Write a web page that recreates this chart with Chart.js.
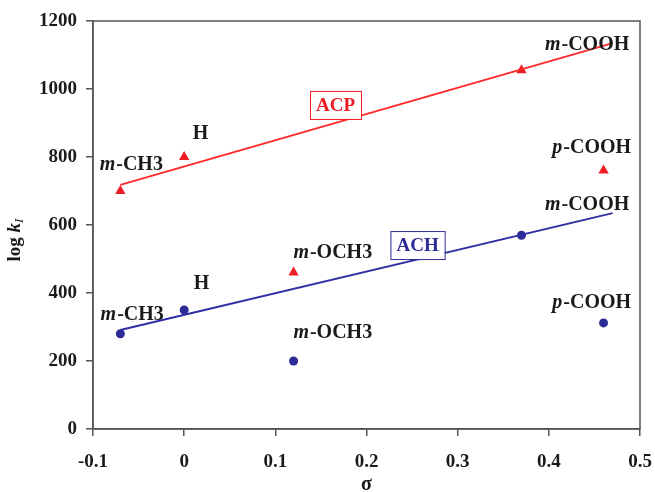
<!DOCTYPE html>
<html>
<head>
<meta charset="utf-8">
<style>
  html, body { margin: 0; padding: 0; background: #fff; }
  #wrap { width: 655px; height: 492px; }
</style>
<script src="https://cdn.jsdelivr.net/npm/chart.js@4/dist/chart.umd.min.js"></script>
</head>
<body>
<div id="wrap"><canvas id="sigmaChart"></canvas></div>
<script>
// Hammett plot data
const sigma = [-0.07, 0, 0.12, 0.37, 0.46];
const substituents = ['m-CH3', 'H', 'm-OCH3', 'm-COOH', 'p-COOH'];
const acpLogK = [700, 800, 460, 1055, 760];
const achLogK = [280, 350, 200, 570, 312];

// fitted lines
const fitSigma = [-0.07, 0.47];
const acpFit = [718, 1135];
const achFit = [291, 635];

const xTickLabels = ['-0.1', '0', '0.1', '0.2', '0.3', '0.4', '0.5'];
const yTickLabels = ['0', '200', '400', '600', '800', '1000', '1200'];

// where the substituent labels sit, in data units (sigma, log k)
const acpLabelAt = [[-0.058, 776], [0.018, 868], [0.163, 518], [0.442, 1129], [0.447, 826]];
const achLabelAt = [[-0.057, 335], [0.019, 426], [0.163, 282], [0.442, 659], [0.447, 371]];
const seriesNames = ['ACP', 'ACH'];
const seriesNameAt = [[0.166, 953], [0.256, 541]];

const RED = '#ee1c24';
const BLUE = '#2c2c96';
const SERIF = '"Liberation Serif", "Times New Roman", serif';

const toPoints = (xs, ys) => xs.map((x, i) => ({ x: x, y: ys[i] }));

// Draws labels, name boxes, axis titles and the frame
const annotate = {
    id: 'annotate',
    afterDatasetsDraw(chart) {
        const ctx = chart.ctx;
        const xs = chart.scales.x;
        const ys = chart.scales.y;
        const area = chart.chartArea;

        ctx.save();
        // frame
        ctx.strokeStyle = '#555';
        ctx.lineWidth = 1.5;
        ctx.strokeRect(area.left, area.top, area.right - area.left, area.bottom - area.top);

        ctx.textBaseline = 'middle';
        const bold = 'bold 20px ' + SERIF;
        const boldItalic = 'italic bold 20px ' + SERIF;

        function drawLabel(text, pos) {
            const px = xs.getPixelForValue(pos[0]);
            const py = ys.getPixelForValue(pos[1]);
            const dash = text.indexOf('-');
            let pre = '', rest = text;
            if (dash === 1) { pre = text[0]; rest = text.slice(1); }
            ctx.font = boldItalic;
            const w1 = pre ? ctx.measureText(pre).width + 1 : 0;
            ctx.font = bold;
            const w2 = ctx.measureText(rest).width;
            let x = px - (w1 + w2) / 2;
            ctx.fillStyle = '#1a1a1a';
            ctx.textAlign = 'left';
            if (pre) {
                ctx.font = boldItalic;
                ctx.fillText(pre, x, py);
                x += w1;
            }
            ctx.font = bold;
            ctx.fillText(rest, x, py);
        }

        substituents.forEach((s, i) => drawLabel(s, acpLabelAt[i]));
        substituents.forEach((s, i) => drawLabel(s, achLabelAt[i]));

        // series name boxes
        [RED, BLUE].forEach((col, i) => {
            const px = xs.getPixelForValue(seriesNameAt[i][0]);
            const py = ys.getPixelForValue(seriesNameAt[i][1]);
            ctx.font = 'bold 19px ' + SERIF;
            const w = ctx.measureText(seriesNames[i]).width + 12;
            const h = 28;
            ctx.fillStyle = '#fff';
            ctx.fillRect(px - w / 2, py - h / 2, w, h);
            ctx.strokeStyle = col;
            ctx.lineWidth = 1;
            ctx.strokeRect(px - w / 2 + 0.5, py - h / 2 + 0.5, w, h);
            ctx.fillStyle = col;
            ctx.textAlign = 'center';
            ctx.fillText(seriesNames[i], px, py + 1);
        });

        // x title
        ctx.fillStyle = '#1a1a1a';
        ctx.textAlign = 'center';
        ctx.font = 'bold 20px ' + SERIF;
        ctx.fillText('σ', (area.left + area.right) / 2, 485);

        // y title: log k_I
        ctx.translate(15, 240);
        ctx.rotate(-Math.PI / 2);
        ctx.textAlign = 'left';
        ctx.font = 'bold 19px ' + SERIF;
        const a = ctx.measureText('log ').width;
        ctx.font = 'italic bold 19px ' + SERIF;
        const b = ctx.measureText('k').width;
        ctx.font = 'italic 13px ' + SERIF;
        const c = ctx.measureText('I').width;
        let x0 = -(a + b + c) / 2;
        ctx.font = 'bold 19px ' + SERIF;
        ctx.fillText('log ', x0, 0);
        ctx.font = 'italic bold 19px ' + SERIF;
        ctx.fillText('k', x0 + a, 0);
        ctx.font = 'italic 13px ' + SERIF;
        ctx.fillText('I', x0 + a + b, 5);
        ctx.restore();
    }
};

const tickFont = { family: SERIF, size: 19, weight: 'bold' };

new Chart(document.getElementById('sigmaChart'), {
    type: 'scatter',
    data: {
        datasets: [
            {
                label: 'ACP fit',
                type: 'line',
                data: toPoints(fitSigma, acpFit),
                borderColor: '#ff2a2a',
                borderWidth: 2,
                pointRadius: 0,
                fill: false
            },
            {
                label: 'ACH fit',
                type: 'line',
                data: toPoints(fitSigma, achFit),
                borderColor: '#3030a4',
                borderWidth: 2,
                pointRadius: 0,
                fill: false
            },
            {
                label: 'ACP',
                data: toPoints(sigma, acpLogK),
                pointStyle: 'triangle',
                pointRadius: 6,
                backgroundColor: RED,
                borderColor: RED,
                borderWidth: 0
            },
            {
                label: 'ACH',
                data: toPoints(sigma, achLogK),
                pointStyle: 'circle',
                pointRadius: 4.5,
                backgroundColor: BLUE,
                borderColor: BLUE,
                borderWidth: 0
            }
        ]
    },
    options: {
        responsive: true,
        maintainAspectRatio: false,
        animation: false,
        layout: { padding: { left: 0, right: 15, top: 21, bottom: 0 } },
        plugins: {
            legend: { display: false },
            tooltip: { enabled: false }
        },
        scales: {
            x: {
                type: 'linear',
                min: -0.1,
                max: 0.5,
                afterFit: (s) => { s.height = 63; s.paddingLeft = 0; s.paddingRight = 0; },
                ticks: {
                    stepSize: 0.1,
                    color: '#1a1a1a',
                    font: tickFont,
                    padding: 15,
                    maxRotation: 0,
                    callback: (v, i) => xTickLabels[i]
                },
                grid: { drawOnChartArea: false, tickLength: 7, color: '#555', lineWidth: 1.5 },
                border: { color: '#555', width: 1.5 }
            },
            y: {
                min: 0,
                max: 1200,
                afterFit: (s) => { s.width = 93; s.paddingTop = 0; s.paddingBottom = 0; },
                ticks: {
                    stepSize: 200,
                    color: '#1a1a1a',
                    font: tickFont,
                    padding: 9,
                    callback: (v, i) => yTickLabels[i]
                },
                grid: { drawOnChartArea: false, tickLength: 7, color: '#555', lineWidth: 1.5 },
                border: { color: '#555', width: 1.5 }
            }
        }
    },
    plugins: [annotate]
});
</script>
</body>
</html>
